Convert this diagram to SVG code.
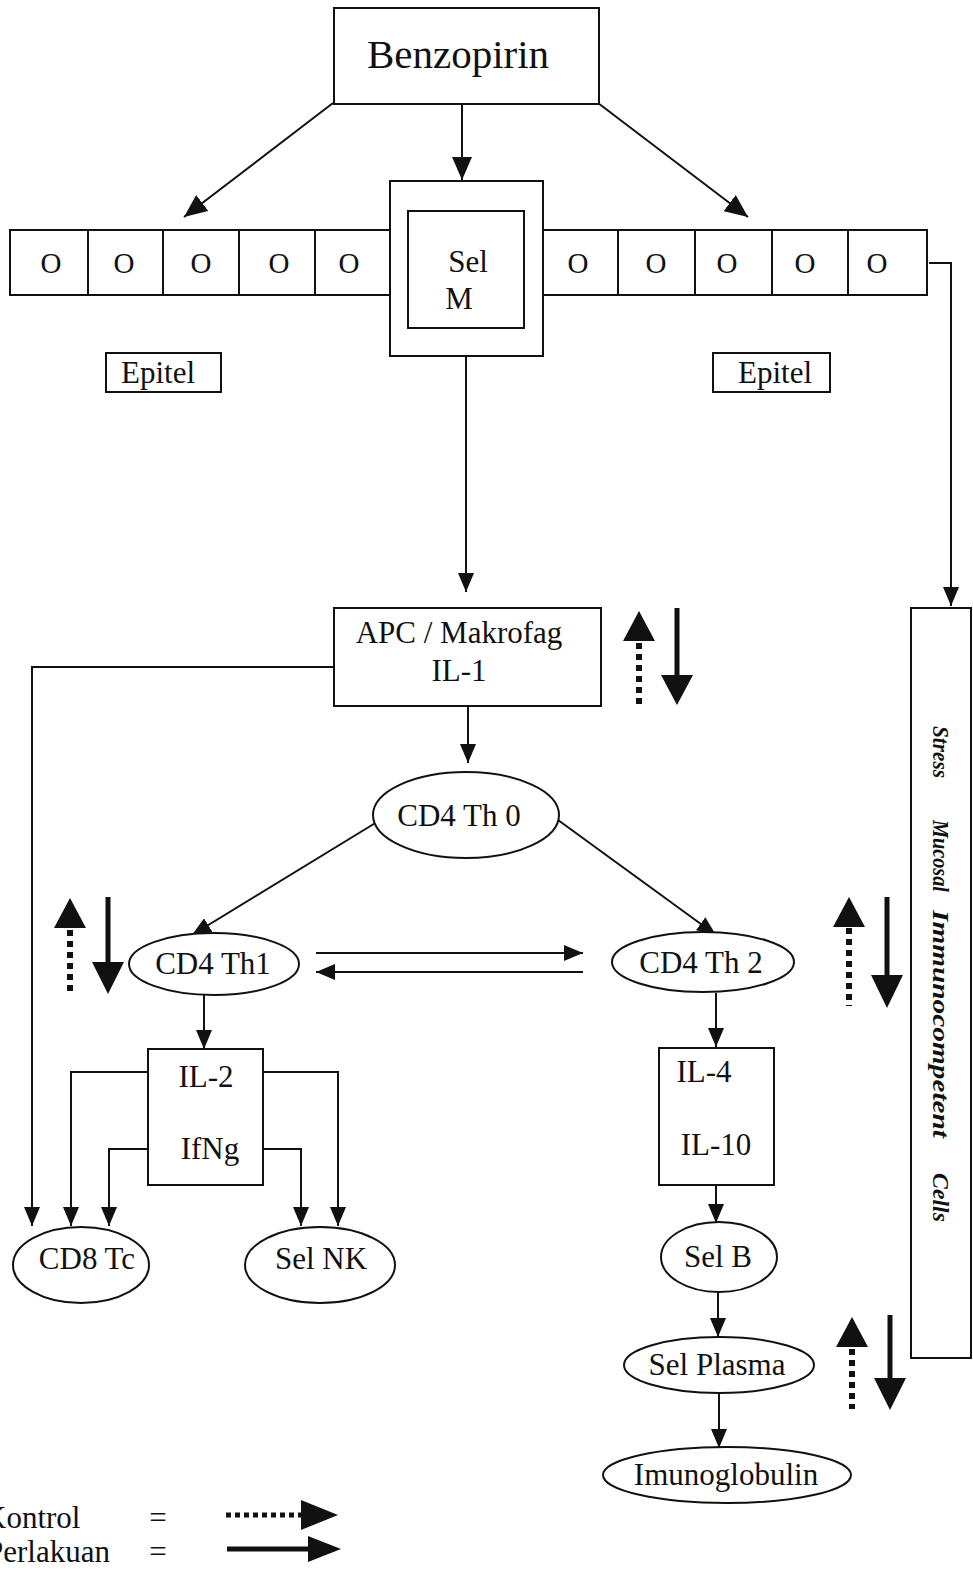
<svg xmlns="http://www.w3.org/2000/svg" width="973" height="1573" viewBox="0 0 973 1573">
<style>
  .b{fill:#fff;stroke:#111;stroke-width:2}
  .t{font-family:"Liberation Serif","Times New Roman",serif;font-size:31px;fill:#111;text-anchor:middle}
  .l{fill:none;stroke:#111;stroke-width:2}
  .s{font-family:"Liberation Serif","Times New Roman",serif;font-weight:bold;font-style:italic;font-size:24px;fill:#111}
  .h{fill:#111}
  .dash{fill:none;stroke:#111;stroke-width:6;stroke-dasharray:6,5}
  .thick{fill:none;stroke:#111;stroke-width:5}
</style>
<defs>
  <marker id="a" markerUnits="userSpaceOnUse" markerWidth="20" markerHeight="16" refX="19" refY="8" orient="auto">
    <path d="M0,0 L19,8 L0,16 z" fill="#111"/>
  </marker>
  <marker id="ab" markerUnits="userSpaceOnUse" markerWidth="24" markerHeight="20" refX="23" refY="10" orient="auto">
    <path d="M0,0 L23,10 L0,20 z" fill="#111"/>
  </marker>
</defs>
<rect width="973" height="1573" fill="#fff"/>

<g id="connectors">
  <line class="l" x1="333" y1="103" x2="184" y2="217" marker-end="url(#ab)"/>
  <line class="l" x1="462" y1="103" x2="462" y2="180" marker-end="url(#ab)"/>
  <line class="l" x1="598" y1="103" x2="748" y2="217" marker-end="url(#ab)"/>
  <line class="l" x1="466" y1="357" x2="466" y2="592" marker-end="url(#a)"/>
  <polyline class="l" points="929,263 951,263 951,606" marker-end="url(#a)"/>
  <polyline class="l" points="334,667 32,667 32,1226" marker-end="url(#a)"/>
  <line class="l" x1="468" y1="707" x2="468" y2="763" marker-end="url(#a)"/>
  <line class="l" x1="377" y1="822" x2="192" y2="935" marker-end="url(#a)"/>
  <line class="l" x1="558" y1="820" x2="716" y2="935" marker-end="url(#a)"/>
  <line class="l" x1="316" y1="953" x2="583" y2="953" marker-end="url(#a)"/>
  <line class="l" x1="583" y1="972" x2="316" y2="972" marker-end="url(#a)"/>
  <line class="l" x1="204" y1="995" x2="204" y2="1049" marker-end="url(#a)"/>
  <polyline class="l" points="148,1072 71,1072 71,1226" marker-end="url(#a)"/>
  <polyline class="l" points="263,1072 338,1072 338,1226" marker-end="url(#a)"/>
  <polyline class="l" points="148,1149 109,1149 109,1226" marker-end="url(#a)"/>
  <polyline class="l" points="263,1149 301,1149 301,1226" marker-end="url(#a)"/>
  <line class="l" x1="716" y1="993" x2="716" y2="1047" marker-end="url(#a)"/>
  <line class="l" x1="716" y1="1186" x2="716" y2="1223" marker-end="url(#a)"/>
  <line class="l" x1="718" y1="1293" x2="718" y2="1337" marker-end="url(#a)"/>
  <line class="l" x1="719" y1="1393" x2="719" y2="1448" marker-end="url(#a)"/>
</g>

<g id="benzopirin">
  <rect class="b" x="334" y="8" width="265" height="96"/>
  <text class="t" x="458" y="68" style="font-size:41px">Benzopirin</text>
</g>

<g id="epitel-row">
  <rect class="b" x="10" y="230" width="380" height="65"/>
  <line class="l" x1="88" y1="230" x2="88" y2="295"/>
  <line class="l" x1="163" y1="230" x2="163" y2="295"/>
  <line class="l" x1="239" y1="230" x2="239" y2="295"/>
  <line class="l" x1="315" y1="230" x2="315" y2="295"/>
  <rect class="b" x="543" y="230" width="384" height="65"/>
  <line class="l" x1="618" y1="230" x2="618" y2="295"/>
  <line class="l" x1="695" y1="230" x2="695" y2="295"/>
  <line class="l" x1="772" y1="230" x2="772" y2="295"/>
  <line class="l" x1="848" y1="230" x2="848" y2="295"/>
  <g class="t" style="font-size:29px">
    <text x="51" y="273">O</text><text x="124" y="273">O</text><text x="201" y="273">O</text><text x="279" y="273">O</text><text x="349" y="273">O</text>
    <text x="578" y="273">O</text><text x="656" y="273">O</text><text x="727" y="273">O</text><text x="805" y="273">O</text><text x="877" y="273">O</text>
  </g>
</g>

<g id="sel-m">
  <rect class="b" x="390" y="181" width="153" height="175"/>
  <rect class="b" x="408" y="211" width="116" height="117"/>
  <text class="t" x="468" y="272">Sel</text>
  <text class="t" x="459" y="309">M</text>
</g>

<g id="epitel-left">
  <rect class="b" x="106" y="353" width="115" height="39"/>
  <text class="t" x="158" y="383">Epitel</text>
</g>
<g id="epitel-right">
  <rect class="b" x="713" y="353" width="117" height="39"/>
  <text class="t" x="775" y="383">Epitel</text>
</g>

<g id="apc">
  <rect class="b" x="334" y="608" width="267" height="98"/>
  <text class="t" x="459" y="643">APC / Makrofag</text>
  <text class="t" x="459" y="681">IL-1</text>
</g>

<g id="cd4-th0">
  <ellipse class="b" cx="466" cy="815" rx="93" ry="43"/>
  <text class="t" x="459" y="826">CD4 Th 0</text>
</g>
<g id="cd4-th1">
  <ellipse class="b" cx="214" cy="964" rx="85" ry="31"/>
  <text class="t" x="213" y="974">CD4 Th1</text>
</g>
<g id="cd4-th2">
  <ellipse class="b" cx="703" cy="962" rx="91" ry="30"/>
  <text class="t" x="701" y="973">CD4 Th 2</text>
</g>

<g id="il2">
  <rect class="b" x="148" y="1049" width="115" height="136"/>
  <text class="t" x="206" y="1087">IL-2</text>
  <text class="t" x="210" y="1159">IfNg</text>
</g>
<g id="il4">
  <rect class="b" x="659" y="1048" width="115" height="137"/>
  <text class="t" x="704" y="1082">IL-4</text>
  <text class="t" x="716" y="1155">IL-10</text>
</g>

<g id="cd8">
  <ellipse class="b" cx="81" cy="1265" rx="68" ry="38"/>
  <text class="t" x="87" y="1269">CD8 Tc</text>
</g>
<g id="sel-nk">
  <ellipse class="b" cx="320" cy="1265" rx="75" ry="38"/>
  <text class="t" x="321" y="1269">Sel NK</text>
</g>
<g id="sel-b">
  <ellipse class="b" cx="719" cy="1257" rx="58" ry="35"/>
  <text class="t" x="718" y="1267">Sel B</text>
</g>
<g id="sel-plasma">
  <ellipse class="b" cx="719" cy="1365" rx="95" ry="28"/>
  <text class="t" x="717" y="1375">Sel Plasma</text>
</g>
<g id="imunoglobulin">
  <ellipse class="b" cx="727" cy="1475" rx="124" ry="28"/>
  <text class="t" x="726" y="1485">Imunoglobulin</text>
</g>

<g id="stress">
  <rect class="b" x="911" y="608" width="60" height="750"/>
  <text class="s" transform="translate(933,726) rotate(90)" textLength="52" lengthAdjust="spacingAndGlyphs">Stress</text>
  <text class="s" transform="translate(933,820) rotate(90)" textLength="72" lengthAdjust="spacingAndGlyphs">Mucosal</text>
  <text class="s" transform="translate(933,910) rotate(90)" textLength="228" lengthAdjust="spacingAndGlyphs">Immunocompetent</text>
  <text class="s" transform="translate(933,1173) rotate(90)" textLength="49" lengthAdjust="spacingAndGlyphs">Cells</text>
</g>

<g id="indicators">
  <line class="dash" x1="639" y1="643" x2="639" y2="704"/>
  <polygon class="h" points="639,611 655,641 623,641"/>
  <line class="thick" x1="677" y1="608" x2="677" y2="678"/>
  <polygon class="h" points="661,675 693,675 677,705"/>

  <line class="dash" x1="70" y1="930" x2="70" y2="993"/>
  <polygon class="h" points="70,898 86,928 54,928"/>
  <line class="thick" x1="108" y1="897" x2="108" y2="965"/>
  <polygon class="h" points="92,962 124,962 108,994"/>

  <line class="dash" x1="849" y1="928" x2="849" y2="1006"/>
  <polygon class="h" points="849,897 865,927 833,927"/>
  <line class="thick" x1="887" y1="897" x2="887" y2="978"/>
  <polygon class="h" points="871,975 903,975 887,1008"/>

  <line class="dash" x1="852" y1="1349" x2="852" y2="1409"/>
  <polygon class="h" points="852,1317 868,1347 836,1347"/>
  <line class="thick" x1="890" y1="1315" x2="890" y2="1381"/>
  <polygon class="h" points="874,1378 906,1378 890,1410"/>
</g>

<g id="legend">
  <text class="t" x="-16" y="1528" style="text-anchor:start">Kontrol</text>
  <text class="t" x="-14" y="1562" style="text-anchor:start">Perlakuan</text>
  <text class="t" x="158" y="1528">=</text>
  <text class="t" x="158" y="1562">=</text>
  <line class="dash" x1="226" y1="1515" x2="302" y2="1515" style="stroke-width:5;stroke-dasharray:5,4"/>
  <polygon class="h" points="301,1500 338,1515 301,1530"/>
  <line class="thick" x1="227" y1="1549" x2="312" y2="1549"/>
  <polygon class="h" points="308,1536 341,1549 308,1562"/>
</g>
</svg>
